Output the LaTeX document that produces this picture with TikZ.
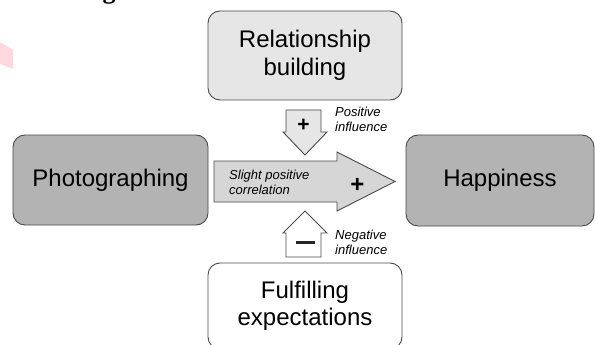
\documentclass[tikz,border=0pt]{standalone}
\usepackage{fontspec}
\setmainfont{Liberation Sans}
\newfontfamily\serifbold{Liberation Serif}
\definecolor{edge}{HTML}{4A4A4A}
\definecolor{darkfill}{HTML}{B3B3B3}
\definecolor{lightfill}{HTML}{E6E6E6}
\definecolor{arrowfill}{HTML}{D6D6D6}
\definecolor{pinkmark}{HTML}{FFD9DD}
\tikzset{
  box/.style={draw=edge, line width=0.9pt, rounded corners=12pt, align=center,
    font=\fontsize{24}{27.5}\selectfont, inner sep=0pt},
  fatarrow/.style={draw=edge, line width=0.9pt, line join=miter},
  note/.style={font=\itshape\fontsize{13}{15}\selectfont, align=left, inner sep=0pt, anchor=west},
  sign/.style={font=\bfseries, inner sep=0pt}
}
\begin{document}
\begin{tikzpicture}[x=1pt,y=-1pt]
\clip (0,0) rectangle (595,345);
\useasboundingbox (0,0) rectangle (595,345);
\fill[white] (0,0) rectangle (595,345);
% faint watermark fragment and cut-off heading glyph
\fill[pinkmark] (0,42) -- (13,50) -- (13,69) -- (0,64) -- cycle;
\node[font=\serifbold\bfseries\fontsize{26}{26}\selectfont, inner sep=0pt, anchor=base] (head) at (109,-1) {g};

% boxes
\node[box, fill=lightfill, minimum width=194pt, minimum height=89pt] (rel) at (305,55.5) {Relationship\\building};
\node[box, fill=darkfill, minimum width=195pt, minimum height=90pt] (photo) at (110.5,180) {Photographing};
\node[box, fill=darkfill, minimum width=188pt, minimum height=91pt] (happy) at (500,180.5) {Happiness};
\node[box, fill=white, minimum width=194pt, minimum height=86pt] (fulfil) at (305,306) {Fulfilling\\expectations};

% big arrow
\coordinate (bigtail) at (214,181.5);
\coordinate (bigtip) at (395,181.5);
\filldraw[fatarrow, fill=arrowfill]
  (214,161) -- (337,161) -- (337,152) -- (bigtip) -- (337,211) -- (337,202) -- (214,202) -- cycle;
\node[note] (corr) at (229,182) {Slight positive\\correlation};
\node[sign, font=\bfseries\fontsize{24}{24}\selectfont] (plusbig) at (357.5,185) {+};

% down arrow (positive influence)
\coordinate (downtip) at (305,155);
\filldraw[fatarrow, fill=lightfill]
  (286,110) -- (321,110) -- (321,132) -- (327,132) -- (downtip) -- (283,132) -- (286,132) -- cycle;
\node[sign, font=\bfseries\fontsize{21}{21}\selectfont] (plussmall) at (303.5,125) {+};
\node[note] (pos) at (335,119) {Positive\\influence};

% up arrow (negative influence)
\coordinate (uptip) at (305,211);
\filldraw[fatarrow, fill=white]
  (286,257) -- (321,257) -- (321,233) -- (327,233) -- (uptip) -- (283,233) -- (286,233) -- cycle;
\fill[black!85] (296,240.5) rectangle (315,243.5);
\node[note] (neg) at (335,242.5) {Negative\\influence};
\end{tikzpicture}
\end{document}
